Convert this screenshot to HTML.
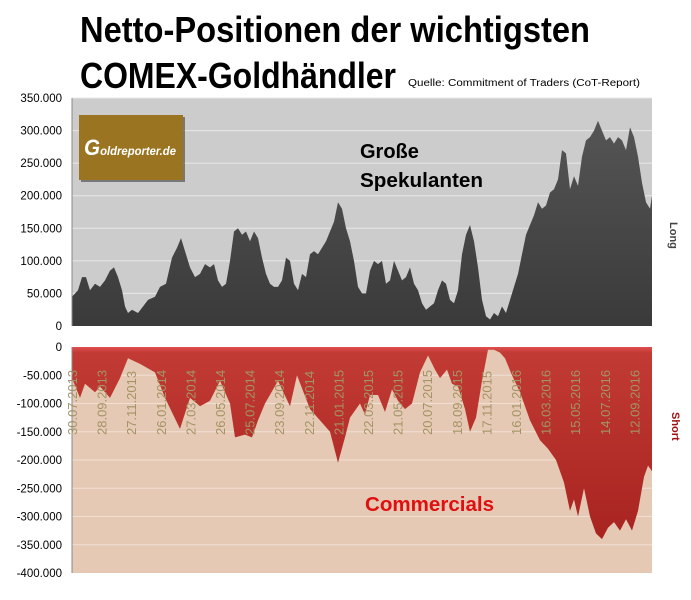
<!DOCTYPE html>
<html><head><meta charset="utf-8"><style>
body{margin:0;background:#fff;width:691px;height:600px;overflow:hidden}
svg{display:block}
text{font-family:"Liberation Sans","DejaVu Sans",sans-serif}
</style></head><body>
<svg id="s" width="691" height="600" xmlns="http://www.w3.org/2000/svg">
<defs>
<linearGradient id="gt" x1="0" y1="0" x2="0" y2="1"><stop offset="0" stop-color="#555"/><stop offset="1" stop-color="#3a3a3a"/></linearGradient>
<linearGradient id="gb" x1="0" y1="0" x2="0" y2="1"><stop offset="0" stop-color="#e05050"/><stop offset="0.03" stop-color="#c23a34"/><stop offset="1" stop-color="#a82420"/></linearGradient>
</defs>
<text x="80" y="42" font-size="36" font-weight="bold" fill="#000" textLength="510" lengthAdjust="spacingAndGlyphs">Netto-Positionen der wichtigsten</text>
<text x="80" y="88" font-size="36" font-weight="bold" fill="#000" textLength="316" lengthAdjust="spacingAndGlyphs">COMEX-Goldhändler</text>
<text x="408" y="86" font-size="10" fill="#000" textLength="232" lengthAdjust="spacingAndGlyphs">Quelle: Commitment of Traders (CoT-Report)</text>
<rect x="72" y="98" width="580" height="228" fill="#cccccc"/>
<rect x="72" y="347" width="580" height="226" fill="#e6c9b4"/>
<g id="grid" stroke="#e8e8e8" stroke-width="1"></g>
<path id="pt" fill="url(#gt)"/>
<path id="pb" fill="url(#gb)"/>
<g id="ax" font-size="11.5" fill="#000" text-anchor="end"></g>
<g id="xl" font-size="13" fill="#a39464"></g>
<line x1="72" y1="98" x2="72" y2="326" stroke="#888"/>
<line x1="72" y1="347" x2="72" y2="573" stroke="#888"/>
<rect x="79" y="115" width="104" height="65" fill="#222" opacity="0.5" transform="translate(2,2)"/>
<rect x="79" y="115" width="104" height="65" fill="#9a7420"/>
<text x="84" y="155" font-size="12" font-weight="bold" font-style="italic" fill="#fff" textLength="92" lengthAdjust="spacingAndGlyphs"><tspan font-size="22">G</tspan>oldreporter.de</text>
<text x="360" y="158" font-size="20" font-weight="bold" fill="#000">Große</text>
<text x="360" y="187" font-size="20" font-weight="bold" fill="#000" textLength="123" lengthAdjust="spacingAndGlyphs">Spekulanten</text>
<text x="365" y="511" font-size="20" font-weight="bold" fill="#e01010" textLength="129" lengthAdjust="spacingAndGlyphs">Commercials</text>
<text transform="translate(670,222) rotate(90)" font-size="11" font-weight="bold" fill="#444">Long</text>
<text transform="translate(672,412) rotate(90)" font-size="11" font-weight="bold" fill="#a01010">Short</text>
</svg>
<script>
var NS="http://www.w3.org/2000/svg";
var top_=[72,45,78,55,82,75,86,75,90,55,95,65,100,60,105,70,110,85,114,90,118,75,122,55,125,30,128,20,132,25,138,20,143,30,148,40,155,45,160,60,166,65,172,105,177,120,181,135,185,115,190,90,195,75,200,80,205,95,210,90,214,95,218,70,222,60,226,65,230,100,234,145,238,150,242,140,246,145,250,130,254,145,258,135,262,105,266,80,270,65,274,60,278,60,282,70,286,105,290,100,294,65,298,55,302,80,306,75,310,110,314,115,318,110,322,120,326,130,330,145,334,160,338,190,342,180,346,150,350,130,354,100,358,60,362,50,366,50,370,85,374,100,378,95,382,100,386,65,390,70,394,100,398,85,402,70,406,75,410,90,414,65,418,55,422,35,426,25,430,30,434,35,438,55,442,70,446,65,450,40,454,35,458,55,462,110,466,140,470,155,474,130,478,90,482,40,486,15,490,10,494,20,498,15,502,30,506,20,510,40,514,60,518,80,522,110,526,140,530,155,534,170,538,190,542,180,546,185,550,205,554,210,558,225,562,270,566,265,570,210,574,230,578,215,582,260,586,285,590,290,594,300,598,315,602,300,606,285,610,290,614,280,618,290,622,285,626,270,630,305,634,290,638,260,642,220,646,190,650,180,652,200];
var bot=[72,-55,80,-90,85,-65,95,-80,100,-70,110,-90,120,-55,128,-20,140,-30,155,-45,165,-90,180,-145,190,-90,200,-105,210,-95,220,-60,230,-100,235,-160,245,-155,252,-160,258,-130,265,-100,278,-60,290,-105,297,-50,310,-110,320,-130,330,-150,338,-205,345,-160,350,-125,360,-100,365,-120,370,-85,378,-85,385,-115,392,-75,398,-95,405,-110,412,-100,420,-45,428,-15,435,-40,440,-55,447,-40,452,-65,458,-70,465,-110,470,-150,476,-125,482,-60,488,-5,494,-5,500,-10,505,-20,512,-50,520,-80,530,-130,540,-165,548,-180,556,-200,564,-240,570,-290,574,-270,578,-300,584,-250,590,-300,596,-330,602,-340,608,-320,614,-310,620,-325,626,-305,632,-325,638,-290,644,-230,648,-210,652,-220];
function path(a,y0,k){var d="M72,"+y0;for(var i=0;i<a.length;i+=2)d+=" L"+a[i]+","+(y0-a[i+1]*k).toFixed(1);return d+" L652,"+y0+" Z";}
document.getElementById("pt").setAttribute("d",path(top_,326,0.6514));
document.getElementById("pb").setAttribute("d",path(bot,347,0.565));
var g=document.getElementById("grid"),ax=document.getElementById("ax");
function el(t,at,p,tx){var e=document.createElementNS(NS,t);for(var k in at)e.setAttribute(k,at[k]);if(tx)e.textContent=tx;p.appendChild(e);}
var lab=["0","50.000","100.000","150.000","200.000","250.000","300.000","350.000"];
for(var i=0;i<=7;i++){var y=326-i*32.57;if(i>0)el("line",{x1:72,x2:652,y1:y,y2:y},g);el("text",{x:62,y:y+4},ax,lab[i]);}
var lb=["0","-50.000","-100.000","-150.000","-200.000","-250.000","-300.000","-350.000","-400.000"];
for(var i=0;i<=8;i++){var y=347+i*28.25;if(i>0&&i<8)el("line",{x1:72,x2:652,y1:y,y2:y,stroke:"#f0e0d4"},g);el("text",{x:62,y:y+4},ax,lb[i]);}
var xs=["30.07.2013","28.09.2013","27.11.2013","26.01.2014","27.03.2014","26.05.2014","25.07.2014","23.09.2014","22.11.2014","21.01.2015","22.03.2015","21.05.2015","20.07.2015","18.09.2015","17.11.2015","16.01.2016","16.03.2016","15.05.2016","14.07.2016","12.09.2016"];
var xl=document.getElementById("xl");
for(var i=0;i<xs.length;i++){var x=72+i*29.6;el("line",{x1:x,x2:x,y1:347,y2:352,stroke:"#d88"},g);el("text",{transform:"translate("+(x+5)+",435) rotate(-90)"},xl,xs[i]);}
</script>
</body></html>
